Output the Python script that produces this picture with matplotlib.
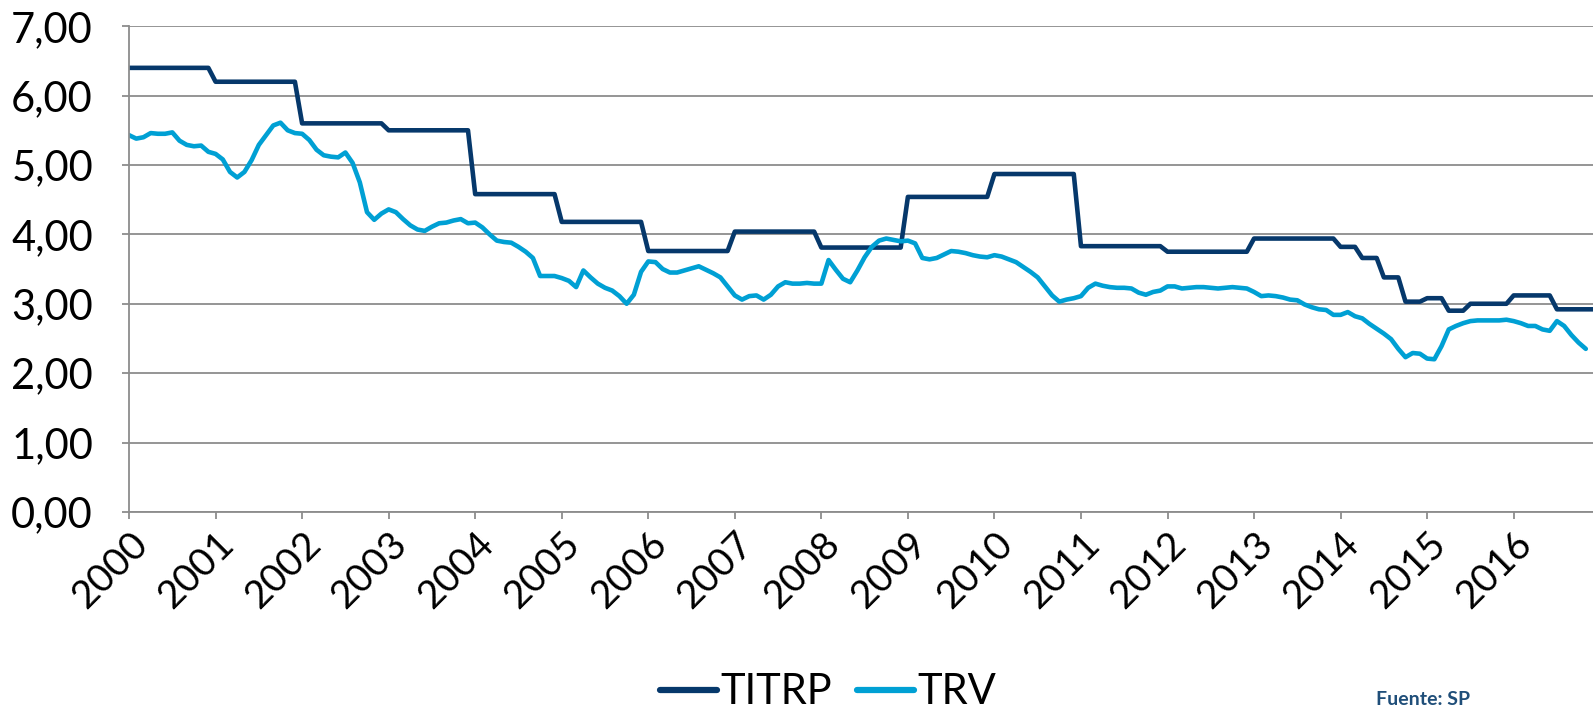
import matplotlib
matplotlib.use("Agg")
import matplotlib.pyplot as plt
from matplotlib.ticker import FuncFormatter, MultipleLocator
import numpy as np

# monthly series, Jan 2000 onwards
years = [str(y) for y in range(2000, 2017)]

titrp = [
    6.40, 6.40, 6.40, 6.40, 6.40, 6.40, 6.40, 6.40, 6.40, 6.40, 6.40, 6.40,  # 2000
    6.20, 6.20, 6.20, 6.20, 6.20, 6.20, 6.20, 6.20, 6.20, 6.20, 6.20, 6.20,  # 2001
    5.60, 5.60, 5.60, 5.60, 5.60, 5.60, 5.60, 5.60, 5.60, 5.60, 5.60, 5.60,  # 2002
    5.50, 5.50, 5.50, 5.50, 5.50, 5.50, 5.50, 5.50, 5.50, 5.50, 5.50, 5.50,  # 2003
    4.58, 4.58, 4.58, 4.58, 4.58, 4.58, 4.58, 4.58, 4.58, 4.58, 4.58, 4.58,  # 2004
    4.18, 4.18, 4.18, 4.18, 4.18, 4.18, 4.18, 4.18, 4.18, 4.18, 4.18, 4.18,  # 2005
    3.76, 3.76, 3.76, 3.76, 3.76, 3.76, 3.76, 3.76, 3.76, 3.76, 3.76, 3.76,  # 2006
    4.04, 4.04, 4.04, 4.04, 4.04, 4.04, 4.04, 4.04, 4.04, 4.04, 4.04, 4.04,  # 2007
    3.81, 3.81, 3.81, 3.81, 3.81, 3.81, 3.81, 3.81, 3.81, 3.81, 3.81, 3.81,  # 2008
    4.54, 4.54, 4.54, 4.54, 4.54, 4.54, 4.54, 4.54, 4.54, 4.54, 4.54, 4.54,  # 2009
    4.87, 4.87, 4.87, 4.87, 4.87, 4.87, 4.87, 4.87, 4.87, 4.87, 4.87, 4.87,  # 2010
    3.83, 3.83, 3.83, 3.83, 3.83, 3.83, 3.83, 3.83, 3.83, 3.83, 3.83, 3.83,  # 2011
    3.75, 3.75, 3.75, 3.75, 3.75, 3.75, 3.75, 3.75, 3.75, 3.75, 3.75, 3.75,  # 2012
    3.94, 3.94, 3.94, 3.94, 3.94, 3.94, 3.94, 3.94, 3.94, 3.94, 3.94, 3.94,  # 2013
    3.82, 3.82, 3.82, 3.66, 3.66, 3.66, 3.38, 3.38, 3.38, 3.03, 3.03, 3.03,  # 2014
    3.08, 3.08, 3.08, 2.90, 2.90, 2.90, 3.00, 3.00, 3.00, 3.00, 3.00, 3.00,  # 2015
    3.12, 3.12, 3.12, 3.12, 3.12, 3.12, 2.92, 2.92, 2.92, 2.92, 2.92, 2.92,  # 2016
]

trv = [
    5.43, 5.38, 5.40, 5.46, 5.45, 5.45, 5.47, 5.35, 5.29, 5.27, 5.28, 5.19,  # 2000
    5.16, 5.08, 4.90, 4.82, 4.90, 5.07, 5.29, 5.43, 5.57, 5.61, 5.50, 5.46,  # 2001
    5.45, 5.36, 5.22, 5.14, 5.12, 5.11, 5.18, 5.03, 4.75, 4.32, 4.21, 4.30,  # 2002
    4.36, 4.32, 4.22, 4.13, 4.07, 4.05, 4.11, 4.16, 4.17, 4.20, 4.22, 4.16,  # 2003
    4.17, 4.10, 4.00, 3.91, 3.89, 3.88, 3.82, 3.75, 3.66, 3.40, 3.40, 3.40,  # 2004
    3.37, 3.33, 3.24, 3.48, 3.38, 3.29, 3.23, 3.19, 3.11, 3.00, 3.13, 3.46,  # 2005
    3.61, 3.60, 3.50, 3.45, 3.45, 3.48, 3.51, 3.54, 3.49, 3.44, 3.38, 3.25,  # 2006
    3.12, 3.06, 3.11, 3.12, 3.06, 3.13, 3.25, 3.31, 3.29, 3.29, 3.30, 3.29,  # 2007
    3.29, 3.63, 3.49, 3.36, 3.31, 3.48, 3.67, 3.82, 3.91, 3.94, 3.92, 3.90,  # 2008
    3.91, 3.87, 3.66, 3.64, 3.66, 3.71, 3.76, 3.75, 3.73, 3.70, 3.68, 3.67,  # 2009
    3.70, 3.68, 3.64, 3.60, 3.53, 3.46, 3.38, 3.25, 3.12, 3.03, 3.06, 3.08,  # 2010
    3.11, 3.23, 3.29, 3.26, 3.24, 3.23, 3.23, 3.22, 3.16, 3.13, 3.17, 3.19,  # 2011
    3.25, 3.25, 3.22, 3.23, 3.24, 3.24, 3.23, 3.22, 3.23, 3.24, 3.23, 3.22,  # 2012
    3.17, 3.11, 3.12, 3.11, 3.09, 3.06, 3.05, 2.99, 2.95, 2.92, 2.91, 2.84,  # 2013
    2.84, 2.88, 2.82, 2.79, 2.71, 2.64, 2.57, 2.49, 2.35, 2.23, 2.29, 2.28,  # 2014
    2.21, 2.20, 2.39, 2.63, 2.68, 2.72, 2.75, 2.76, 2.76, 2.76, 2.76, 2.77,  # 2015
    2.75, 2.72, 2.68, 2.68, 2.63, 2.61, 2.75, 2.68, 2.55, 2.44, 2.35,        # 2016
]

dark = "#06386B"
light = "#00A0D4"
grid = "#8C8C8C"

plt.rcParams['font.family'] = ['Lato', 'DejaVu Sans']

fig = plt.figure(figsize=(15.93, 7.09), dpi=100)
ax = fig.add_axes([0.081, 0.278, 0.919, 0.685])

ax.plot(np.arange(len(titrp)), titrp, color=dark, lw=3.3, label="TITRP",
        solid_joinstyle='round', solid_capstyle='round')
ax.plot(np.arange(len(trv)), trv, color=light, lw=3.3, label="TRV",
        solid_joinstyle='round', solid_capstyle='round')

ax.set_xlim(0, len(titrp) - 1)
ax.set_ylim(0, 7)
ax.yaxis.set_major_locator(MultipleLocator(1))
ax.yaxis.set_major_formatter(FuncFormatter(lambda v, p: f"{v:.2f}".replace(".", ",")))
ax.grid(axis='y', color=grid, lw=1.3)
ax.set_axisbelow(True)

ax.set_xticks(np.arange(len(years)) * 12)
ax.set_xticklabels(years, rotation=45, ha='right', rotation_mode='anchor')

for s in ['top', 'right']:
    ax.spines[s].set_visible(False)
for s in ['left', 'bottom']:
    ax.spines[s].set_color(grid)
    ax.spines[s].set_linewidth(1.3)
ax.tick_params(axis='both', colors=grid, labelcolor='black', labelsize=28,
               length=5, width=1.3)
ax.tick_params(axis='x', pad=5)
ax.tick_params(axis='y', labelsize=30, pad=21)

leg = fig.legend(loc='lower center', bbox_to_anchor=(0.52, -0.056), ncol=2,
                 frameon=False, fontsize=30, handlelength=1.35,
                 handletextpad=0.1, columnspacing=0.6)
for h in leg.get_lines():
    h.set_linewidth(4.5)

fig.text(0.864, 0.002, "Fuente: SP", fontsize=14, fontweight='bold',
         color="#1F4E79", ha='left', va='bottom')

fig.savefig("out.png", dpi=100)
